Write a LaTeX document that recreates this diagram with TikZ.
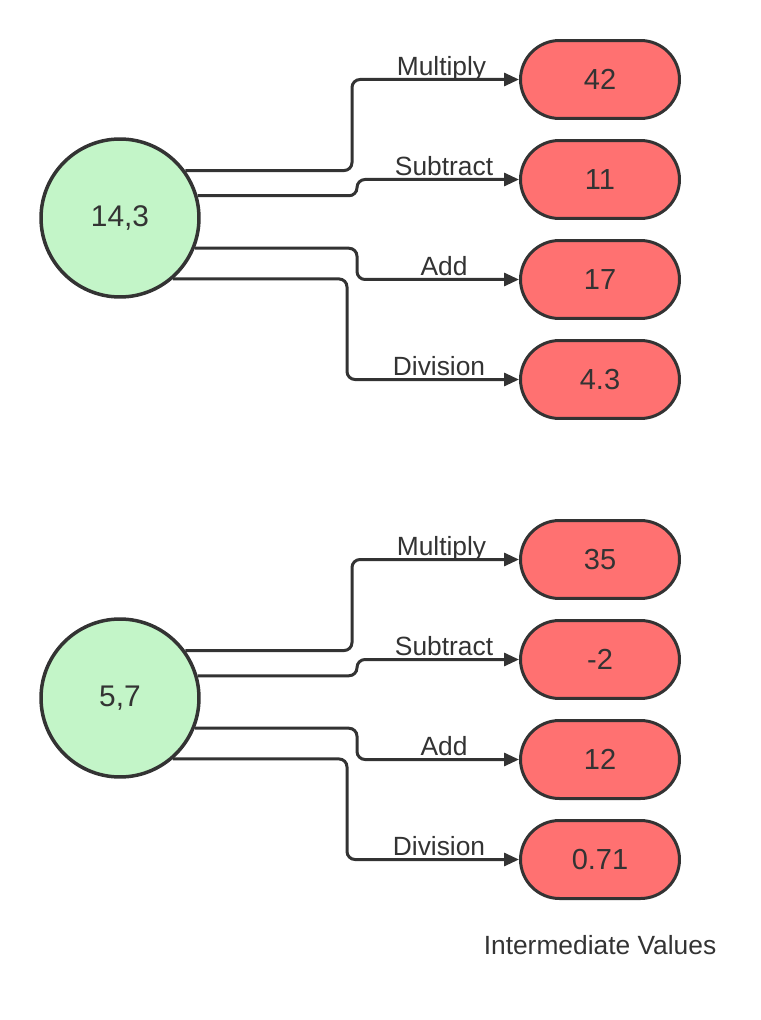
\documentclass[tikz,border=0pt]{standalone}
\usepackage{fontspec}
\setmainfont{Liberation Sans}
\usetikzlibrary{arrows.meta}

\definecolor{inkgray}{HTML}{333333}
\definecolor{pairgreen}{HTML}{C3F5C8}
\definecolor{valred}{HTML}{FF7171}

\tikzset{
  pair/.style={circle, draw=inkgray, fill=pairgreen, line width=0.07cm,
    minimum size=3.16cm, inner sep=0pt, text=inkgray,
    font=\fontsize{17}{20}\selectfont},
  val/.style={rectangle, rounded corners=0.78cm, draw=inkgray, fill=valred,
    line width=0.06cm, minimum width=3.18cm, minimum height=1.56cm,
    text=inkgray, font=\fontsize{16.5}{19}\selectfont},
  link/.style={draw=inkgray, line width=0.06cm, rounded corners=0.16cm,
    -{Triangle[length=0.3cm,width=0.26cm]}},
  oplabel/.style={font=\fontsize{15}{17}\selectfont, text=inkgray,
    anchor=base, yshift=0.08cm, xshift=0.12cm, inner sep=0pt}
}

\begin{document}
\begin{tikzpicture}[x=0.02cm, y=-0.02cm]
\useasboundingbox (0,0) rectangle (760,1020);

% where the connectors turn
\coordinate (kMul) at (352,0);
\coordinate (kSub) at (357,0);
\coordinate (kAdd) at (357,0);
\coordinate (kDiv) at (347,0);

% first pair
\node[pair] (a) at (120,218) {14,3};
\node[val] (a1) at (600,79.5) {42};
\node[val] (a2) at (600,179.5) {11};
\node[val] (a3) at (600,279.5) {17};
\node[val] (a4) at (600,379.5) {4.3};

\draw[link] (a.36) -| (kMul |- a1.west) -- node[oplabel]{Multiply} (a1.west);
\draw[link] (a.16) -| (kSub |- a2.west) -- node[oplabel]{Subtract} (a2.west);
\draw[link] (a.-22) -| (kAdd |- a3.west) -- node[oplabel]{Add} (a3.west);
\draw[link] (a.-49) -| (kDiv |- a4.west) -- node[oplabel]{Division} (a4.west);

% second pair
\node[pair] (b) at (120,698) {5,7};
\node[val] (b1) at (600,559.5) {35};
\node[val] (b2) at (600,659.5) {-2};
\node[val] (b3) at (600,759.5) {12};
\node[val] (b4) at (600,859.5) {0.71};

\draw[link] (b.36) -| (kMul |- b1.west) -- node[oplabel]{Multiply} (b1.west);
\draw[link] (b.16) -| (kSub |- b2.west) -- node[oplabel]{Subtract} (b2.west);
\draw[link] (b.-22) -| (kAdd |- b3.west) -- node[oplabel]{Add} (b3.west);
\draw[link] (b.-49) -| (kDiv |- b4.west) -- node[oplabel]{Division} (b4.west);

\node[text=inkgray, font=\fontsize{15}{17}\selectfont] (caption) at (600,945) {Intermediate Values};
\end{tikzpicture}
\end{document}
